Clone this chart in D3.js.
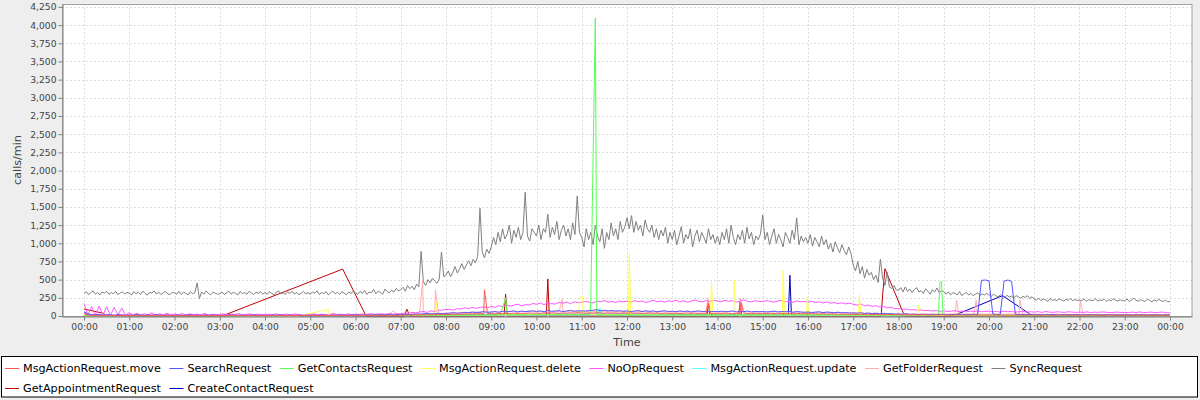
<!DOCTYPE html>
<html>
<head>
<meta charset="utf-8">
<script src="https://cdn.jsdelivr.net/npm/d3@7"></script>
<style>
	body { margin: 0; background: #eeeeee; }
	svg { display: block; font-family: "DejaVu Sans", sans-serif; }
</style>
</head>
<body>
<svg id="chart" width="1200" height="400"></svg>
<script>
// series names, in legend order
var seriesNames = ["MsgActionRequest.move", "SearchRequest", "GetContactsRequest", "MsgActionRequest.delete",
	"NoOpRequest", "MsgActionRequest.update", "GetFolderRequest", "SyncRequest",
	"GetAppointmentRequest", "CreateContactRequest"];

var yTicks = [0, 250, 500, 750, 1000, 1250, 1500, 1750, 2000, 2250, 2500, 2750, 3000, 3250, 3500, 3750, 4000, 4250];

// 3 minute samples from 00:00 to 24:00 (one row per hour)
var syncRequest = [
	310,335,295,320,345,300,325,290,330,315,340,298,322,305,338,292,318,332,300,326,
	312,290,336,305,328,296,342,310,288,325,315,345,302,330,295,320,338,306,292,328,
	318,300,340,296,325,312,290,335,305,322,455,240,330,300,345,310,292,326,314,300,
	305,330,296,318,342,300,325,312,290,336,308,322,298,340,315,295,328,310,335,300,
	322,298,335,310,290,328,345,305,318,296,332,310,340,300,326,292,315,338,304,320,
	300,328,312,345,296,322,308,335,290,318,342,305,326,298,336,314,292,330,310,340,
	318,300,338,310,352,296,330,320,365,305,342,325,300,370,335,318,355,330,380,345,
	360,395,340,420,375,410,360,440,400,890,470,420,500,455,520,480,450,510,880,540,
	560,620,540,600,680,590,650,720,640,700,760,690,780,730,820,1480,880,800,920,860,
	950,1080,980,1150,1020,1200,1060,1120,1250,1000,1180,1080,1220,1050,1150,1700,1100,1030,1200,1150,
	1100,1250,1050,1200,1150,1400,1080,1220,1120,1300,1050,1180,1250,1100,1200,1050,1280,1120,1650,1150,
	1080,950,1200,1050,1150,980,1250,1100,1020,1200,930,1150,1050,1280,1100,1200,1050,1300,1150,1220,
	1350,1200,1380,1150,1300,1180,1250,1100,1320,1200,1150,1250,1080,1200,1050,1180,1100,1220,1000,1150,
	1050,1180,980,1100,1230,1000,1120,1060,1200,950,1100,1180,1020,1150,1080,1000,1200,1050,1120,1000,
	1100,980,1150,1050,1200,1000,1250,1080,980,1120,1050,1180,1000,1220,1060,1150,980,1100,1050,1130,
	1390,1050,1150,980,1100,1200,1000,1120,1050,950,1150,1080,1000,1180,1050,1350,980,1100,1020,1080,
	1000,1120,960,1080,1020,950,1100,980,1050,920,1000,880,1020,940,870,980,900,840,950,860,
	700,620,750,580,680,520,640,560,600,500,560,460,780,520,420,600,400,380,420,360,
	350,390,330,400,340,370,320,365,390,330,350,310,375,340,300,360,330,385,320,345,
	340,300,330,290,320,310,290,335,280,305,325,290,310,280,300,320,285,305,290,310,
	290,270,300,280,260,295,270,250,285,260,275,250,280,265,245,270,255,280,240,265,
	230,220,245,210,235,220,200,240,215,225,210,235,220,205,230,215,240,210,225,215,
	220,210,235,200,225,215,210,240,205,220,215,230,200,225,210,235,215,205,225,210,
	210,235,200,220,245,215,205,225,210,200,230,215,195,220,205,230,210,200,220,195,
	200];

// 5 minute samples from 00:00 to 24:00
var noOpRequest = [
	175,10,130,15,135,12,125,10,120,15,110,12,
	45,12,38,15,30,18,45,10,32,14,40,16,
	28,15,35,12,30,20,26,15,36,12,25,20,
	20,30,15,26,20,35,15,22,30,15,25,20,
	16,25,20,30,15,22,26,15,30,20,16,25,
	20,30,16,25,20,15,30,22,25,15,30,20,
	25,20,30,16,35,22,25,30,20,35,25,30,
	30,40,35,50,45,55,62,50,72,60,78,82,
	88,92,80,102,96,112,100,122,105,118,126,112,
	132,120,142,128,150,136,148,162,140,156,150,172,
	162,178,156,182,170,165,188,175,192,170,196,182,
	186,202,190,180,206,195,212,190,202,186,206,196,
	202,190,212,196,206,186,200,216,195,206,190,210,
	200,216,195,210,190,206,220,200,196,212,200,216,
	206,195,216,200,212,190,206,222,200,196,210,202,
	196,212,200,190,206,216,196,202,186,206,196,200,
	190,202,186,196,180,192,176,186,170,182,166,176,
	162,150,166,140,152,132,142,122,132,112,122,102,
	102,92,96,84,88,78,84,72,78,68,74,66,
	70,62,66,74,60,70,58,66,62,70,58,64,
	66,58,62,54,66,58,62,54,58,62,54,58,
	54,60,50,62,54,50,58,54,50,58,54,50,
	54,48,58,46,54,50,56,52,46,50,54,48,
	50,46,54,48,56,46,50,54,46,50,54,46,
	44];

var searchRequest = [
	60,30,20,15,25,10,20,15,10,20,15,10,
	15,10,20,12,8,15,10,18,12,10,15,8,
	10,15,8,12,18,10,12,8,15,10,12,10,
	8,12,10,15,8,10,12,8,10,15,10,8,
	10,8,12,10,15,8,10,12,8,10,8,12,
	10,12,8,15,10,8,12,10,15,12,10,15,
	12,15,10,18,12,15,20,15,18,22,15,20,
	20,25,18,22,28,25,30,35,28,32,38,30,
	35,40,45,38,42,50,45,55,48,52,60,50,
	55,60,52,65,58,62,70,55,68,60,65,72,
	62,70,58,75,65,68,72,60,70,78,65,72,
	70,68,75,80,85,72,78,70,75,68,72,65,
	70,62,68,75,60,72,65,70,58,66,72,62,
	65,58,70,62,68,55,64,70,60,66,58,64,
	60,66,58,62,70,56,64,60,68,55,62,58,
	62,56,60,68,54,62,58,64,52,60,56,50,
	55,48,52,58,46,54,50,45,52,42,48,40,
	42,38,45,35,40,32,38,30,35,28,32,25,
	28,25,30,22,26,20,24,22,18,24,20,22,
	20,18,22,20,25,18,22,20,24,20,490,495,
	485,30,18,25,480,495,475,24,20,22,18,20,
	18,20,16,22,18,20,15,18,20,16,18,20,
	16,18,15,20,16,18,14,16,18,15,17,16,
	15,18,14,16,18,15,14,16,15,18,14,16,
	15];

var getFolderRequest = [
	40,20,15,25,12,18,15,20,12,15,18,14,
	15,12,18,14,16,12,15,18,12,14,16,12,
	14,16,12,18,15,12,16,14,12,18,15,13,
	12,15,18,12,14,16,12,15,18,13,14,16,
	15,12,16,14,18,12,15,13,16,14,12,15,
	14,16,12,18,15,14,40,16,12,18,15,20,
	18,22,16,25,20,18,24,20,26,22,70,24,
	25,28,22,30,26,32,28,34,30,36,32,38,
	40,36,45,42,48,44,52,46,55,50,58,54,
	56,60,54,62,58,65,60,56,64,58,66,62,
	60,66,58,64,62,68,60,66,62,58,64,60,
	62,58,66,60,64,56,62,68,58,64,60,62,
	60,64,58,62,66,60,56,62,58,64,60,56,
	58,62,56,60,64,58,62,56,60,58,62,56,
	58,54,60,56,62,58,54,60,56,58,54,60,
	56,52,58,54,60,52,56,54,50,56,52,54,
	52,48,54,50,46,52,48,44,50,46,42,48,
	44,40,46,38,42,36,40,34,38,32,36,30,
	32,28,34,26,30,28,24,30,26,28,24,26,
	28,24,26,30,24,28,26,24,28,30,26,24,
	26,24,28,22,26,24,28,22,26,24,22,26,
	24,22,26,20,24,22,26,20,24,22,20,24,
	22,20,24,20,22,24,20,22,20,24,22,20,
	22,20,18,22,20,24,18,22,20,18,22,20,
	18];
var getFolderSpikes = [["07:29", 490], ["07:46", 360], ["10:34", 230], ["13:47", 250], ["14:30", 250],
	["19:17", 220], ["19:43", 220], ["20:41", 220], ["22:01", 200]];

var msgActionMove = [
	30,12,8,10,6,8,10,5,8,6,10,7,
	8,6,10,7,5,9,6,8,10,6,7,5,
	6,8,5,9,7,6,10,5,8,6,9,7,
	5,8,6,10,7,5,8,6,9,7,5,8,
	7,5,9,6,8,10,6,7,5,9,6,8,
	6,9,7,5,8,6,10,7,6,8,5,9,
	8,6,10,8,7,12,9,10,8,12,10,9,
	12,10,14,12,16,14,18,15,20,18,22,20,
	24,22,26,28,25,30,28,32,30,34,28,32,
	34,30,36,32,38,35,40,34,38,36,42,38,
	40,36,42,38,44,40,36,42,38,44,40,46,
	42,38,44,40,46,42,38,44,40,42,38,44,
	40,44,38,42,36,40,44,38,42,36,40,38,
	36,40,34,38,42,36,40,34,38,36,40,34,
	38,34,40,36,32,38,34,40,36,32,38,34,
	36,32,38,34,30,36,32,34,30,36,32,30,
	34,30,32,28,32,26,30,28,24,28,26,24,
	26,22,24,20,24,18,22,20,18,22,18,20,
	18,16,20,15,18,14,16,18,14,16,15,14,
	16,14,12,15,13,16,12,14,15,12,14,13,
	14,12,15,13,11,14,12,15,13,11,14,12,
	12,14,11,13,12,10,14,12,11,13,10,12,
	11,13,10,12,14,11,10,12,13,10,12,11,
	10,12,11,13,10,12,14,11,10,12,11,10,
	10];
var msgActionMoveSpikes = [["08:51", 360], ["13:48", 180], ["14:31", 180]];

// sparse series: [time, calls/min]
var getContactsRequest = [["00:00", 5], ["03:00", 5], ["06:00", 8], ["08:00", 10], ["09:12", 15], ["09:19", 250],
	["09:21", 15], ["10:30", 18], ["11:11", 20], ["11:12", 200], ["11:18", 4100], ["11:20", 15], ["12:30", 15],
	["14:00", 12], ["16:00", 15], ["18:00", 10], ["18:53", 15], ["18:55", 470], ["18:57", 470], ["18:59", 15],
	["21:00", 5], ["24:00", 5]];

var msgActionDelete = [["00:00", 5], ["02:00", 5], ["04:45", 0], ["05:24", 92], ["05:25", 5], ["07:00", 8],
	["07:45", 10], ["07:47", 195], ["07:49", 10], ["09:00", 15], ["10:00", 20], ["10:56", 20], ["10:57", 260],
	["11:01", 265], ["11:02", 20], ["12:02", 20], ["12:03", 850], ["12:05", 20], ["13:00", 15], ["13:51", 15],
	["13:52", 485], ["13:54", 15], ["14:21", 15], ["14:22", 495], ["14:24", 15], ["15:26", 15], ["15:27", 630],
	["15:29", 15], ["15:58", 15], ["15:59", 260], ["16:01", 15], ["17:07", 12], ["17:08", 290], ["17:10", 12],
	["18:25", 10], ["18:26", 150], ["18:28", 10], ["19:30", 5], ["21:00", 5], ["24:00", 3]];

var msgActionUpdate = [["00:00", 5], ["06:00", 5], ["08:00", 10], ["10:00", 15], ["11:22", 15], ["11:24", 110],
	["11:26", 15], ["13:00", 12], ["16:00", 10], ["18:00", 5], ["24:00", 3]];

var getAppointmentRequest = [["00:00", 95], ["00:25", 40], ["00:30", 5], ["03:03", 0], ["05:43", 645], ["06:14", 0],
	["07:05", 0], ["07:08", 95], ["07:12", 0], ["09:17", 0], ["09:19", 300], ["09:21", 0], ["10:13", 0],
	["10:15", 510], ["10:17", 0], ["13:46", 0], ["13:48", 195], ["13:50", 0], ["14:28", 0], ["14:30", 195],
	["14:32", 0], ["17:37", 0], ["17:39", 290], ["17:42", 650], ["18:08", 0], ["24:00", 0]];

var createContactRequest = [["00:00", 40], ["00:10", 10], ["01:00", 5], ["07:00", 5], ["09:00", 20], ["12:00", 25],
	["15:34", 15], ["15:36", 560], ["15:38", 15], ["17:00", 10], ["19:12", 0], ["20:18", 280], ["20:58", 0],
	["24:00", 5]];

var seriesColors = ["#ff5555", "#5555ff", "#55ff55", "#ffff55", "#ff55ff", "#55ffff", "#ffafaf", "#808080", "#c00000", "#0000c0"];

var base = Date.UTC(2010, 0, 1);

function toMinutes(hm) {
	var p = hm.split(":");
	return parseInt(p[0]) * 60 + parseInt(p[1]);
}

function gridSeries(values, step, spikes) {
	var pts = values.map(function(v, i) { return {t: i * step, v: v}; });
	(spikes || []).forEach(function(s) { pts.push({t: toMinutes(s[0]), v: s[1]}); });
	pts.sort(function(a, b) { return a.t - b.t; });
	return pts;
}

function pairSeries(pairs) {
	return pairs.map(function(p) { return {t: toMinutes(p[0]), v: p[1]}; });
}

var seriesData = [
	gridSeries(msgActionMove, 5, msgActionMoveSpikes),
	gridSeries(searchRequest, 5),
	pairSeries(getContactsRequest),
	pairSeries(msgActionDelete),
	gridSeries(noOpRequest, 5),
	pairSeries(msgActionUpdate),
	gridSeries(getFolderRequest, 5, getFolderSpikes),
	gridSeries(syncRequest, 3),
	pairSeries(getAppointmentRequest),
	pairSeries(createContactRequest)
];

var plotLeft = 62, plotRight = 1192, plotTop = 4, plotBottom = 316;
var svg = d3.select("#chart");

var x = d3.scaleUtc()
	.domain([new Date(base - 29.2 * 60000), new Date(base + (1440 + 29.2) * 60000)])
	.range([plotLeft, plotRight]);
var y = d3.scaleLinear()
	.domain([0, 4290])
	.range([plotBottom, plotTop]);

svg.append("rect")
	.attr("x", plotLeft).attr("y", plotTop)
	.attr("width", plotRight - plotLeft).attr("height", plotBottom - plotTop)
	.attr("fill", "#ffffff");

var hours = d3.utcHour.every(1).range(new Date(base), new Date(base + 1441 * 60000));

// grid
var grid = svg.append("g").attr("stroke", "#dddddd").attr("stroke-width", 1).attr("stroke-dasharray", "2,2");
grid.selectAll(".vg").data(hours).enter().append("line")
	.attr("x1", function(d) { return Math.round(x(d)) + 0.5; })
	.attr("x2", function(d) { return Math.round(x(d)) + 0.5; })
	.attr("y1", plotTop).attr("y2", plotBottom);
grid.selectAll(".hg").data(yTicks.slice(1)).enter().append("line")
	.attr("x1", plotLeft).attr("x2", plotRight)
	.attr("y1", function(d) { return Math.round(y(d)) + 0.5; })
	.attr("y2", function(d) { return Math.round(y(d)) + 0.5; });

// outline
svg.append("rect")
	.attr("x", plotLeft + 0.5).attr("y", plotTop + 0.5)
	.attr("width", plotRight - plotLeft - 0.5).attr("height", plotBottom - plotTop)
	.attr("fill", "none").attr("stroke", "#a0a0a0");

svg.append("clipPath").attr("id", "plotClip")
	.append("rect").attr("x", plotLeft).attr("y", plotTop).attr("width", plotRight - plotLeft).attr("height", plotBottom - plotTop + 1);

var line = d3.line()
	.x(function(d) { return x(new Date(base + d.t * 60000)); })
	.y(function(d) { return y(d.v); });

var lines = svg.append("g").attr("clip-path", "url(#plotClip)");
// drawn in reverse order, first series ends up on top
for (var i = seriesData.length - 1; i >= 0; i--) {
	lines.append("path")
		.datum(seriesData[i])
		.attr("fill", "none")
		.attr("stroke", seriesColors[i])
		.attr("stroke-width", 1)
		.attr("d", line);
}

// axes
var xAxis = svg.append("g")
	.attr("transform", "translate(0," + (plotBottom + 0.5) + ")")
	.call(d3.axisBottom(x).tickValues(hours).tickFormat(d3.utcFormat("%H:%M")).tickSize(4).tickSizeOuter(0).tickPadding(3));
var yAxis = svg.append("g")
	.attr("transform", "translate(" + (plotLeft + 0.5) + ",0)")
	.call(d3.axisLeft(y).tickValues(yTicks).tickFormat(d3.format(",")).tickSize(4).tickSizeOuter(0).tickPadding(2));

[xAxis, yAxis].forEach(function(a) {
	a.select(".domain").attr("stroke", "#808080");
	a.selectAll(".tick line").attr("stroke", "#808080");
	a.selectAll("text").attr("fill", "#444444").style("font-family", "DejaVu Sans").style("font-size", "9.2px");
});

svg.append("text")
	.attr("x", (plotLeft + plotRight) / 2).attr("y", 346)
	.attr("text-anchor", "middle")
	.style("font-size", "11.2px").attr("fill", "#444444")
	.text("Time");
svg.append("text")
	.attr("transform", "translate(21," + ((plotTop + plotBottom) / 2) + ") rotate(-90)")
	.attr("text-anchor", "middle")
	.style("font-size", "11.2px").attr("fill", "#444444")
	.text("calls/min");

// legend
var legend = svg.append("g");
legend.append("rect")
	.attr("x", 1.5).attr("y", 356.5).attr("width", 1196).attr("height", 40.5)
	.attr("fill", "#ffffff").attr("stroke", "#000000");
var lx = 5, ly = 368;
seriesNames.forEach(function(name, i) {
	var item = legend.append("g");
	var label = item.append("text")
		.attr("y", 4)
		.style("font-size", "11.2px").attr("fill", "#000000")
		.text(name);
	var w = label.node().getComputedTextLength();
	if (lx + 18 + w > 1194) {
		lx = 5;
		ly += 20;
	}
	item.attr("transform", "translate(" + lx + "," + ly + ")");
	item.append("line")
		.attr("x1", 0).attr("x2", 14).attr("y1", 0.5).attr("y2", 0.5)
		.attr("stroke", seriesColors[i]);
	label.attr("x", 18);
	lx += 18 + w + 8.5;
});
</script>
</body>
</html>
